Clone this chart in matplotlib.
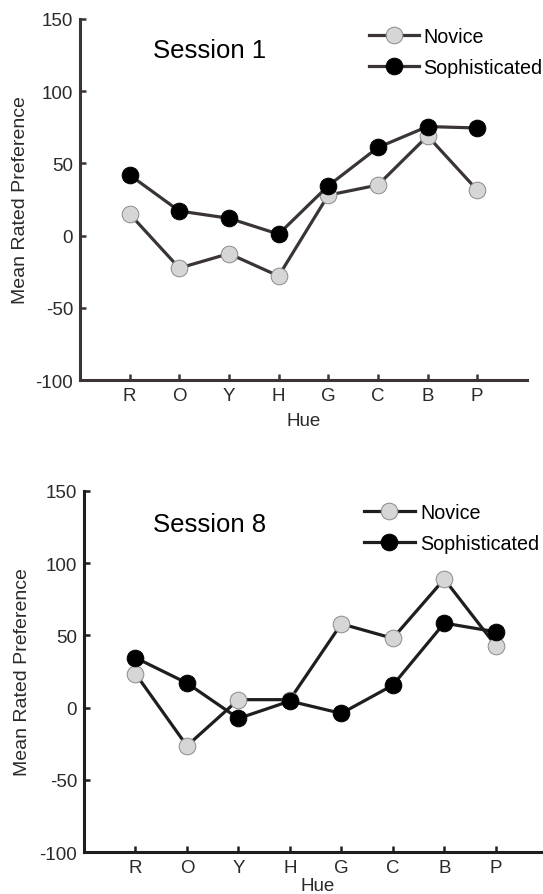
import matplotlib
matplotlib.use("Agg")
import matplotlib.pyplot as plt
import numpy as np

plt.rcParams['font.family'] = ['Liberation Sans', 'DejaVu Sans']
plt.rcParams['axes.unicode_minus'] = False

hues = ['R', 'O', 'Y', 'H', 'G', 'C', 'B', 'P']

# session 1
novice_s1 = [15, -22.5, -12.5, -28, 28, 35, 69, 31.5]
soph_s1 = [42, 17, 12, 1, 34.5, 61, 75.5, 74.5]

# session 8
novice_s8 = [23.5, -26.5, 5.5, 5.5, 58, 48, 89, 43]
soph_s8 = [34.5, 17, -7.5, 4.5, -4, 15.5, 58.5, 52.5]

nov_face = '#d6d6d6'

fig = plt.figure(figsize=(5.43, 8.95), dpi=100)
ax1 = fig.add_axes([0.1473, 0.5743, 0.823, 0.4034])
ax2 = fig.add_axes([0.1547, 0.0469, 0.853, 0.4034])


def draw(ax, nov, soph, title, title_xy, leg_xy, leg_sp, leg_pad, line_col, hue_xy):
    x = np.arange(1, len(hues) + 1)
    ax.plot(x, nov, '-o', color=line_col, lw=2.3, ms=12,
            mfc=nov_face, mec='#8a8a8a', mew=0.7, label='Novice', zorder=2)
    ax.plot(x, soph, '-o', color=line_col, lw=2.3, ms=12,
            mfc='black', mec='black', mew=0.7, label='Sophisticated', zorder=3)
    ax.set_xlim(0, 9)
    ax.set_ylim(-100, 150)
    ax.set_xticks(x)
    ax.set_xticklabels(hues)
    ax.set_yticks([-100, -50, 0, 50, 100, 150])
    for s in ['top', 'right']:
        ax.spines[s].set_visible(False)
    for s in ['left', 'bottom']:
        ax.spines[s].set_linewidth(2.2)
        ax.spines[s].set_color(line_col)
    ax.tick_params(direction='in', length=4, width=1.8, color=line_col,
                   labelsize=13.5, labelcolor='#2a2a2a', pad=5)
    ax.set_xlabel('Hue', fontsize=13.5, color='#2a2a2a')
    ax.xaxis.set_label_coords(hue_xy[0], hue_xy[1])
    ax.set_ylabel('Mean Rated Preference', fontsize=14, color='#2a2a2a')
    ax.yaxis.set_label_coords(-0.115, 0.5)
    ax.text(title_xy[0], title_xy[1], title, transform=ax.transAxes, fontsize=18.5,
            ha='center', va='center', color='black')
    ax.legend(loc='upper left', bbox_to_anchor=leg_xy, frameon=False,
              fontsize=14.2, handlelength=2.55, handletextpad=leg_pad,
              labelspacing=leg_sp, borderpad=0, borderaxespad=0)


draw(ax1, novice_s1, soph_s1, 'Session 1', (0.289, 0.914), (0.6465, 0.977),
     0.58, 0.2, '#3b3434', (0.501, -0.09))
draw(ax2, novice_s8, soph_s8, 'Session 8', (0.272, 0.909), (0.605, 0.968),
     0.65, 0.3, '#1e1e1e', (0.505, -0.068))

fig.savefig('out.png', dpi=100)
